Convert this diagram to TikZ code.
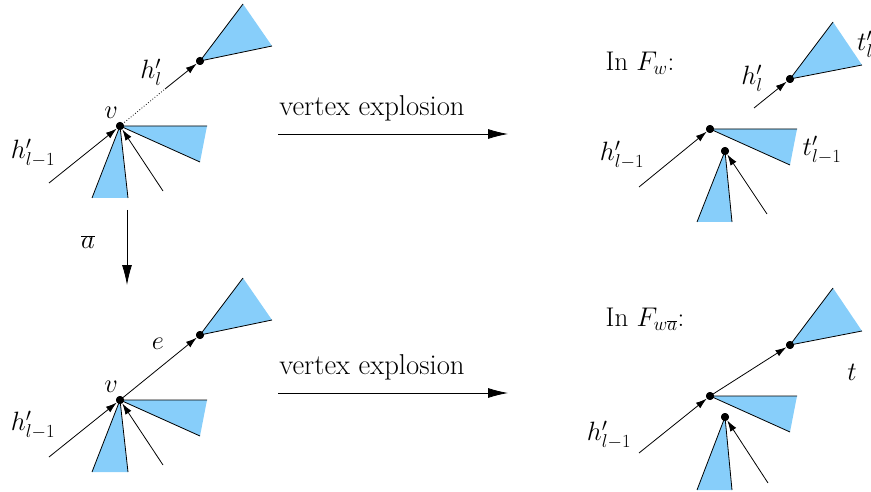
\RequirePackage{fix-cm}
\documentclass[tikz,border=0pt]{standalone}
\usetikzlibrary{arrows.meta}
\definecolor{treeblue}{RGB}{135,206,250}
\tikzset{
  dot/.style={circle,fill=black,inner sep=0pt,minimum size=8pt},
  edgearr/.style={line width=0.8pt,-{Latex[length=11pt,width=7pt]}},
  plain/.style={line width=0.8pt},
  bigarr/.style={line width=0.8pt,-{Latex[length=20pt,width=10pt]}},
  lbl/.style={inner sep=0pt,font=\fontsize{26.5}{32}\selectfont},
  inlbl/.style={inner sep=0pt,font=\fontsize{27}{32}\selectfont},
  txtlbl/.style={inner sep=0pt,font=\fontsize{28.7}{34}\selectfont},
  tri/.style={fill=treeblue},
}
\begin{document}
\begin{tikzpicture}[x=1pt,y=-1pt]
\useasboundingbox (0,0) rectangle (871,492);
% ---------- top-left ----------
\coordinate (tlA1) at (92,198); \coordinate (tlA2) at (128,198);
\coordinate (tlB1) at (207,126); \coordinate (tlB2) at (200,162);
\coordinate (tlC1) at (243,4); \coordinate (tlC2) at (272,46);
\coordinate (tlS) at (49,183); \coordinate (tlR) at (163,191);
\coordinate (tlM) at (165,89);
\node[dot] (tlv) at (120,126) {};
\node[dot] (tlu) at (200,61) {};
\fill[tri] (tlv.center) -- (tlA1) -- (tlA2) -- cycle;
\fill[tri] (tlv.center) -- (tlB1) -- (tlB2) -- cycle;
\fill[tri] (tlu.center) -- (tlC1) -- (tlC2) -- cycle;
\draw[plain] (tlA1) -- (tlv.center) -- (tlA2);
\draw[plain] (tlB1) -- (tlv.center) -- (tlB2);
\draw[plain] (tlC1) -- (tlu.center) -- (tlC2);
\draw[edgearr] (tlS) -- (tlv);
\draw[edgearr] (tlR) -- (tlv);
\draw[plain,dotted] (tlv.center) -- (tlM);
\draw[edgearr] (tlM) -- (tlu);
\node[dot] at (tlv) {}; \node[dot] at (tlu) {};
\node[lbl] (tlvl) at (111,113) {$v$};
\node[lbl] (tlhl) at (151,72) {$h'_l$};
\node[lbl] (tlhm) at (33,153) {$h'_{l-1}$};
% ---------- bottom-left ----------
\coordinate (blA1) at (92,472); \coordinate (blA2) at (128,472);
\coordinate (blB1) at (207,400); \coordinate (blB2) at (200,436);
\coordinate (blC1) at (243,278); \coordinate (blC2) at (272,320);
\coordinate (blS) at (49,457); \coordinate (blR) at (163,465);
\node[dot] (blv) at (120,400) {};
\node[dot] (blu) at (200,335) {};
\fill[tri] (blv.center) -- (blA1) -- (blA2) -- cycle;
\fill[tri] (blv.center) -- (blB1) -- (blB2) -- cycle;
\fill[tri] (blu.center) -- (blC1) -- (blC2) -- cycle;
\draw[plain] (blA1) -- (blv.center) -- (blA2);
\draw[plain] (blB1) -- (blv.center) -- (blB2);
\draw[plain] (blC1) -- (blu.center) -- (blC2);
\draw[edgearr] (blS) -- (blv);
\draw[edgearr] (blR) -- (blv);
\draw[edgearr] (blv.center) -- (blu);
\node[dot] at (blv) {}; \node[dot] at (blu) {};
\node[lbl] (blvl) at (111,387) {$v$};
\node[lbl] (ble) at (158,344) {$e$};
\node[lbl] (blhm) at (33,425) {$h'_{l-1}$};
% ---------- top-right ----------
\coordinate (trA1) at (697,222); \coordinate (trA2) at (732,222);
\coordinate (trB1) at (797,129); \coordinate (trB2) at (790,165);
\coordinate (trC1) at (833,22); \coordinate (trC2) at (862,65);
\coordinate (trS) at (639,187); \coordinate (trR) at (767,214);
\coordinate (trT) at (754,108);
\node[dot] (trv) at (710,129) {};
\node[dot] (trw) at (725,151) {};
\node[dot] (tru) at (790,79) {};
\fill[tri] (trw.center) -- (trA1) -- (trA2) -- cycle;
\fill[tri] (trv.center) -- (trB1) -- (trB2) -- cycle;
\fill[tri] (tru.center) -- (trC1) -- (trC2) -- cycle;
\draw[plain] (trA1) -- (trw.center) -- (trA2);
\draw[plain] (trB1) -- (trv.center) -- (trB2);
\draw[plain] (trC1) -- (tru.center) -- (trC2);
\draw[edgearr] (trS) -- (trv);
\draw[edgearr] (trR) -- (trw);
\draw[edgearr] (trT) -- (tru);
\node[dot] at (trv) {}; \node[dot] at (trw) {}; \node[dot] at (tru) {};
\node[inlbl] (trin) at (640,63) {In $F_w$:};
\node[lbl] (trhl) at (752,78) {$h'_l$};
\node[lbl] (trtl) at (865,44) {$t'_l$};
\node[lbl] (trhm) at (622,155) {$h'_{l-1}$};
\node[lbl] (trtm) at (822,150) {$t'_{l-1}$};
% ---------- bottom-right ----------
\coordinate (brA1) at (697,490); \coordinate (brA2) at (732,490);
\coordinate (brB1) at (797,396); \coordinate (brB2) at (790,432);
\coordinate (brC1) at (833,288); \coordinate (brC2) at (862,331);
\coordinate (brS) at (639,453); \coordinate (brR) at (768,483);
\node[dot] (brv) at (710,396) {};
\node[dot] (brw) at (725,417) {};
\node[dot] (bru) at (790,345) {};
\fill[tri] (brw.center) -- (brA1) -- (brA2) -- cycle;
\fill[tri] (brv.center) -- (brB1) -- (brB2) -- cycle;
\fill[tri] (bru.center) -- (brC1) -- (brC2) -- cycle;
\draw[plain] (brA1) -- (brw.center) -- (brA2);
\draw[plain] (brB1) -- (brv.center) -- (brB2);
\draw[plain] (brC1) -- (bru.center) -- (brC2);
\draw[edgearr] (brS) -- (brv);
\draw[edgearr] (brR) -- (brw);
\draw[edgearr] (brv.center) -- (bru);
\node[dot] at (brv) {}; \node[dot] at (brw) {}; \node[dot] at (bru) {};
\node[inlbl] (brin) at (645,319) {In $F_{w\overline{a}}$:};
\node[lbl] (brt) at (852,372) {$t$};
\node[lbl] (brhm) at (609,435) {$h'_{l-1}$};
% ---------- big arrows ----------
\coordinate (ar1s) at (278,134); \coordinate (ar1e) at (508,134);
\coordinate (ar2s) at (278,393); \coordinate (ar2e) at (508,393);
\coordinate (ar3s) at (127,210); \coordinate (ar3e) at (127,285);
\draw[bigarr] (ar1s) -- (ar1e);
\draw[bigarr] (ar2s) -- (ar2e);
\draw[bigarr] (ar3s) -- (ar3e);
\node[txtlbl] (t1) at (372,108) {vertex explosion};
\node[txtlbl] (t2) at (372,367) {vertex explosion};
\node[lbl] (abar) at (88,242) {$\overline{a}$};
\end{tikzpicture}
\end{document}
